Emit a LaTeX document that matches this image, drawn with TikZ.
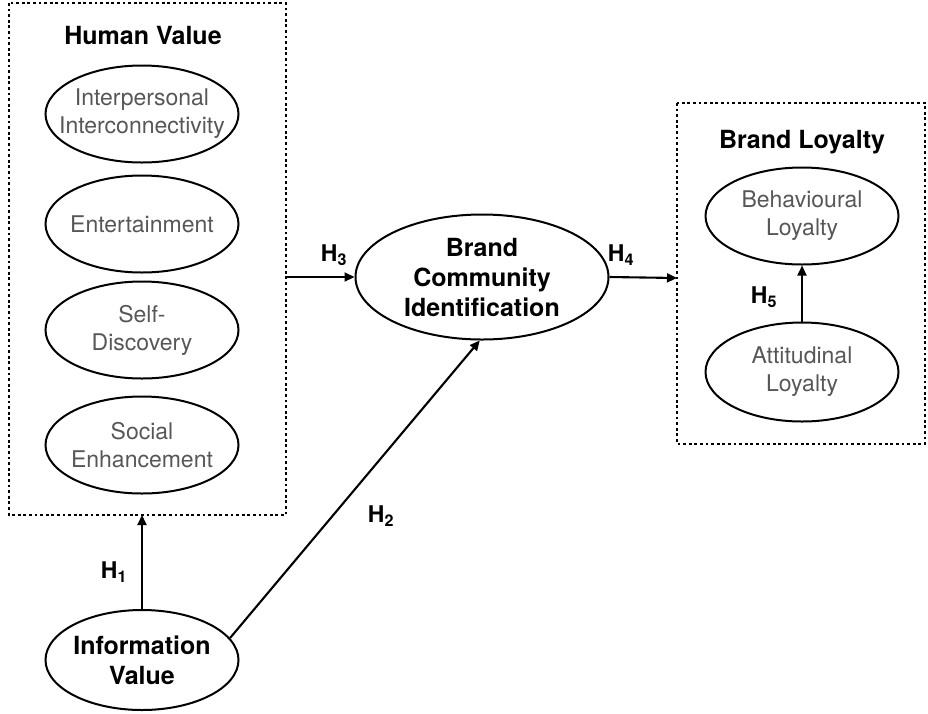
\documentclass[tikz,border=0pt]{standalone}
\usepackage{fontspec}
\setmainfont{TeX Gyre Heros}
\usetikzlibrary{shapes.geometric,arrows.meta}
\tikzset{
  oval/.style={draw, ellipse, line width=2pt, inner sep=0pt},
  small/.style={minimum width=193pt, minimum height=97pt},
  greytxt/.style={align=center, text=black!66, font=\fontsize{23}{28}\selectfont},
  boldtxt/.style={align=center, font=\bfseries\fontsize{25}{30}\selectfont},
  group/.style={draw, line width=2.8pt, dash pattern=on 2.8pt off 2.8pt},
  conn/.style={line width=2.1pt, -{Triangle[length=10pt,width=9pt]}},
  hyp/.style={font=\bfseries\fontsize{23}{26}\selectfont}
}
\begin{document}
\begin{tikzpicture}[x=1pt,y=-1pt]
\useasboundingbox (0,0) rectangle (928,713);
% Human Value group
\draw[group] (9,3) rectangle (286,515);
\coordinate (hvR) at (286,277);
\coordinate (hvB) at (142,515);
\node[boldtxt] (hvt) at (143,35) {Human Value};
\node[oval, small, label={[greytxt]center:Interpersonal\\Interconnectivity}] (ii) at (142,114) {};
\node[oval, small, label={[greytxt]center:Entertainment}] (ent) at (142,224) {};
\node[oval, small, label={[greytxt]center:Self-\\Discovery}] (sd) at (142,330) {};
\node[oval, small, label={[greytxt]center:Social\\Enhancement}] (se) at (142,445) {};
% Brand Loyalty group
\draw[group] (677,103) rectangle (925,444);
\coordinate (blL) at (677,278);
\node[boldtxt] (blt) at (802,142) {Brand Loyalty};
\node[oval, small, label={[greytxt]center:Behavioural\\Loyalty}] (beh) at (802,216) {};
\node[oval, small, minimum height=99pt, label={[greytxt]center:Attitudinal\\Loyalty}] (att) at (802,372) {};
% central
\node[oval, minimum width=253pt, minimum height=125pt, label={[boldtxt]center:Brand\\Community\\Identification}] (bci) at (482,277) {};
\node[oval, small, minimum height=100pt, label={[boldtxt]center:Information\\Value}] (iv) at (142,660) {};
% connectors
\draw[conn] (hvR) -- (bci.west);
\draw[conn] (bci.east) -- (blL);
\draw[conn] (att.north) -- (beh.south);
\draw[conn] (iv.north) -- (hvB);
\draw[conn] (iv.14) -- (bci.-92);
% labels
\node[hyp] (h1) at (114,572) {H\textsubscript{1}};
\node[hyp] (h2) at (381,516) {H\textsubscript{2}};
\node[hyp] (h3) at (334,255) {H\textsubscript{3}};
\node[hyp] (h4) at (621,255) {H\textsubscript{4}};
\node[hyp] (h5) at (764,297) {H\textsubscript{5}};
\end{tikzpicture}
\end{document}
